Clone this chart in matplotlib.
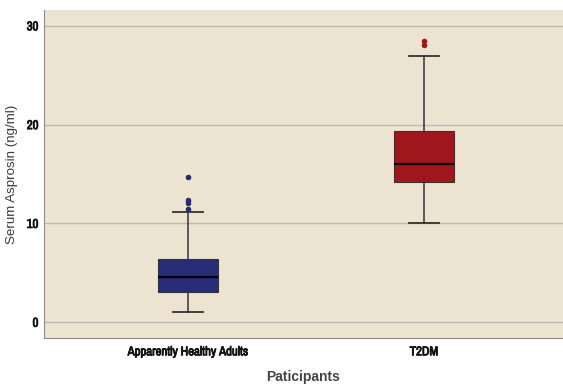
import matplotlib
matplotlib.use("Agg")
import matplotlib.pyplot as plt
import matplotlib.patheffects as pe
from matplotlib import font_manager

categories = ["Apparently Healthy Adults", "T2DM"]
q1 = [3.05, 14.15]
medians = [4.56, 16.05]
q3 = [6.38, 19.35]
whislo = [1.04, 10.06]
whishi = [11.18, 26.9]
fliers = [[14.7, 12.4, 12.1, 11.5], [28.5, 28.1]]
colors = ["#262C78", "#A0161C"]

names = sorted({f.name for f in font_manager.fontManager.ttflist})
narrow = None
for n in names:
    if "Narrow" in n or "Condensed" in n:
        narrow = n
        break
if narrow is None:
    narrow = "Liberation Sans"

fig = plt.figure(figsize=(5.63, 3.85), dpi=100)
ax = fig.add_axes([44/563, 1-338/385, 1-44/563, (338-10)/385])
bg = "#ECE4D1"
ax.set_facecolor(bg)

stats = []
for i, c in enumerate(categories):
    stats.append(dict(label=c, q1=q1[i], med=medians[i], q3=q3[i],
                      whislo=whislo[i], whishi=whishi[i], fliers=fliers[i]))

bp = ax.bxp(stats, positions=[1, 2], widths=0.255, patch_artist=True,
            showfliers=True, zorder=3)
for i, box in enumerate(bp["boxes"]):
    box.set_facecolor(colors[i])
    box.set_edgecolor("#333333")
    box.set_linewidth(0.8)
for m in bp["medians"]:
    m.set_color("black")
    m.set_linewidth(1.6)
for w in bp["whiskers"]:
    w.set_color("#333333")
    w.set_linewidth(1.1)
for cap in bp["caps"]:
    cap.set_color("#333333")
    cap.set_linewidth(1.3)
for i, fl in enumerate(bp["fliers"]):
    fl.set_marker("o")
    fl.set_markersize(3)
    fl.set_markerfacecolor(colors[i])
    fl.set_markeredgecolor(colors[i])

ax.set_xlim(0.39, 2.59)
ax.set_ylim(-1.6, 31.6)
ax.set_yticks([0, 10, 20, 30])
ax.yaxis.grid(True, color="#BDBAB2", linewidth=1.0, zorder=0)
ax.set_axisbelow(True)
ax.tick_params(axis="y", length=0, pad=4)
ax.tick_params(axis="x", length=0, pad=6)
for lab in ax.get_yticklabels() + ax.get_xticklabels():
    lab.set_fontfamily(narrow)
    lab.set_fontweight("bold")
    lab.set_fontsize(9.2)
    lab.set_color("#111111")
    lab.set_path_effects([pe.withStroke(linewidth=0.6, foreground="#111111")])

for s in ["top", "right"]:
    ax.spines[s].set_visible(False)
ax.spines["left"].set_color("#8C8C8C")
ax.spines["bottom"].set_color("#8C8C8C")

ax.set_ylabel("Serum Asprosin (ng/ml)", fontsize=9.6, family="Liberation Sans",
              color="#3A3A3A", labelpad=6)
ax.set_xlabel("Paticipants", fontsize=10, fontweight="bold", family="Liberation Sans",
              color="#444444", labelpad=9)

fig.savefig("out.png", dpi=100)
